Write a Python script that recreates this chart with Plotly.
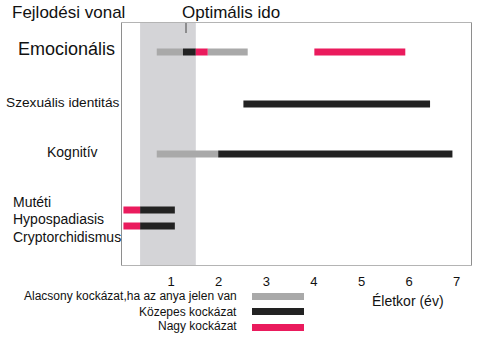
import plotly.graph_objects as go

# ---- data ----
rows = ["Emocionális", "Szexuális identitás", "Kognitív", "Hypospadiasis", "Cryptorchidismus"]
seg_row = ["Emocionális", "Emocionális", "Emocionális", "Emocionális", "Emocionális",
           "Szexuális identitás",
           "Kognitív", "Kognitív",
           "Hypospadiasis", "Hypospadiasis",
           "Cryptorchidismus", "Cryptorchidismus"]
seg_start = [0.70, 1.25, 1.52, 1.77, 4.01, 2.52, 0.70, 1.99, 0.00, 0.35, 0.00, 0.35]
seg_end = [1.25, 1.52, 1.77, 2.61, 5.92, 6.44, 1.99, 6.91, 0.35, 1.08, 0.35, 1.08]
seg_level = ["low", "mid", "high", "low", "high", "mid", "low", "mid", "high", "mid", "high", "mid"]
levels = ["low", "mid", "high"]
level_names = ["Alacsony kockázat,ha az anya jelen van", "Közepes kockázat", "Nagy kockázat"]
opt_window = [0.35, 1.52]
x_ticks = [1, 2, 3, 4, 5, 6, 7]

# ---- style / layout ----
colors = {"low": "#a9a9a9", "mid": "#222222", "high": "#ea1b5d"}
row_pos = {"Emocionális": 29, "Szexuális identitás": 81, "Kognitív": 131,
           "Hypospadiasis": 187, "Cryptorchidismus": 203}
FONT = "Liberation Sans, Arial, sans-serif"
W, H = 479, 338
ML, MR, MT, MB = 122, 8, 23, 73
PW, PH = W - ML - MR, H - MT - MB


def px(x):
    return (x - ML) / PW


def py(y):
    return 1 - (y - MT) / PH


fig = go.Figure()
for lev in levels:
    xs, ys = [], []
    for r, s, e, l in zip(seg_row, seg_start, seg_end, seg_level):
        if l == lev:
            xs += [s, e, None]
            ys += [row_pos[r], row_pos[r], None]
    fig.add_trace(go.Scatter(x=xs, y=ys, mode="lines",
                             line=dict(color=colors[lev], width=7),
                             showlegend=False, hoverinfo="skip"))

shapes = [
    dict(type="rect", xref="x", yref="paper", x0=opt_window[0], x1=opt_window[1],
         y0=0, y1=1, fillcolor="#d4d4d7", line=dict(width=0), layer="below"),
    dict(type="line", xref="paper", yref="paper", x0=px(186), x1=px(186),
         y0=py(23), y1=py(33), line=dict(color="#444", width=1)),
]
leg_y = [(293, 300), (308, 315), (324, 331)]
for lev, (y0, y1) in zip(levels, leg_y):
    shapes.append(dict(type="rect", xref="paper", yref="paper", x0=px(252), x1=px(304),
                       y0=py(y1), y1=py(y0), fillcolor=colors[lev], line=dict(width=0)))

ann = []


def text(t, x, y, size, xanchor="left"):
    ann.append(dict(text=t, x=px(x), y=py(y), xref="paper", yref="paper",
                    xanchor=xanchor, yanchor="middle", showarrow=False,
                    font=dict(family=FONT, size=size, color="#111")))


text("Fejlodési vonal", 10, 13, 17)
text("Optimális ido", 180, 12, 17)
text("Emocionális", 16, 49, 18)
text("Szexuális identitás", 4, 102, 13.7)
text("Kognitív", 45, 152, 14)
text("Mutéti", 11, 202, 14)
text("Hypospadiasis", 11, 219, 14)
text("Cryptorchidismus", 11, 237, 14)
text("Életkor (év)", 408, 301, 14, "center")
for name, yy in zip(level_names, [296, 311.5, 326]):
    text(name, 239, yy, 12, "right")

fig.update_layout(
    width=W, height=H, margin=dict(l=ML, r=MR, t=MT, b=MB),
    plot_bgcolor="white", paper_bgcolor="white",
    shapes=shapes, annotations=ann,
    xaxis=dict(range=[-0.03, 7.3], tickvals=x_ticks, showgrid=False, zeroline=False,
               showline=True, mirror=True, linecolor="#b4b4b4", linewidth=1,
               ticks="outside", ticklen=4, tickcolor="rgba(0,0,0,0)",
               tickfont=dict(family=FONT, size=13, color="#111")),
    yaxis=dict(range=[PH, 0], showticklabels=False, showgrid=False, zeroline=False,
               showline=True, mirror=True, linecolor="#8e8e8e", linewidth=1, ticks=""),
)
fig.write_html("out.html")
